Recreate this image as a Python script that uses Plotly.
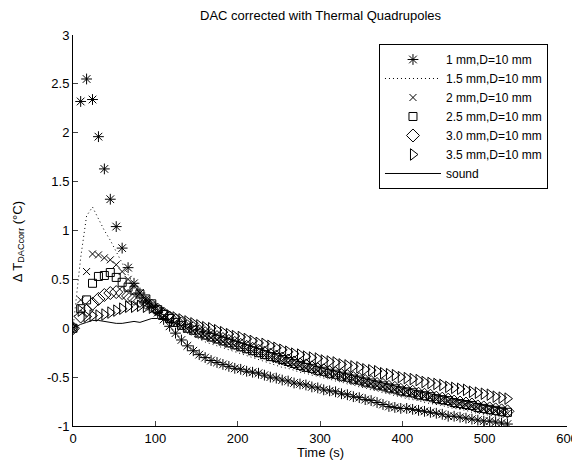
import plotly.graph_objects as go

TIME = [0, 9.3, 16.5, 23.7, 30.9, 38.1, 45.3, 52.5, 59.7, 66.9, 74.1, 81.3, 88.5, 95.7,
        102.9, 110.1, 117.3, 124.5, 131.7, 138.9, 146.1, 153.3, 160.5, 167.7, 174.9,
        182.1, 189.3, 196.5, 203.7, 210.9, 218.1, 225.3, 232.5, 239.7, 246.9, 254.1,
        261.3, 268.5, 275.7, 282.9, 290.1, 297.3, 304.5, 311.7, 318.9, 326.1, 333.3,
        340.5, 347.7, 354.9, 362.1, 369.3, 376.5, 383.7, 390.9, 398.1, 405.3, 412.5,
        419.7, 426.9, 434.1, 441.3, 448.5, 455.7, 462.9, 470.1, 477.3, 484.5, 491.7,
        498.9, 506.1, 513.3, 520.5, 527.7]

S_1MM = [0, 2.32, 2.55, 2.34, 1.96, 1.63, 1.32, 1.04, 0.82, 0.62, 0.46, 0.36, 0.28, 0.22,
         0.16, 0.09, 0.02, -0.05, -0.12, -0.18, -0.23, -0.27, -0.30, -0.33, -0.35,
         -0.37, -0.39, -0.41, -0.42, -0.44, -0.45, -0.46, -0.48, -0.50, -0.51, -0.53,
         -0.54, -0.56, -0.57, -0.58, -0.60, -0.61, -0.63, -0.64, -0.65, -0.67, -0.68,
         -0.70, -0.71, -0.73, -0.74, -0.76, -0.78, -0.80, -0.81, -0.82, -0.82, -0.83,
         -0.84, -0.85, -0.86, -0.87, -0.88, -0.90, -0.90, -0.91, -0.92, -0.93, -0.94,
         -0.95, -0.95, -0.96, -0.97, -0.98]

S_15MM = [0, 0.72, 1.15, 1.24, 1.12, 1.00, 0.90, 0.78, 0.66, 0.55, 0.45, 0.37, 0.30, 0.24,
          0.18, 0.12, 0.07, 0.03, -0.01, -0.05, -0.08, -0.11, -0.14, -0.16, -0.18,
          -0.20, -0.22, -0.24, -0.26, -0.28, -0.30, -0.32, -0.34, -0.36, -0.38, -0.40,
          -0.41, -0.43, -0.45, -0.46, -0.48, -0.49, -0.51, -0.52, -0.54, -0.55, -0.57,
          -0.58, -0.60, -0.61, -0.63, -0.64, -0.66, -0.67, -0.69, -0.70, -0.72, -0.73,
          -0.74, -0.76, -0.77, -0.78, -0.79, -0.81, -0.82, -0.83, -0.84, -0.86, -0.87,
          -0.88, -0.89, -0.90, -0.91, -0.92]

S_2MM = [0, 0.29, 0.58, 0.76, 0.75, 0.72, 0.70, 0.65, 0.58, 0.50, 0.43, 0.36, 0.30, 0.24,
         0.18, 0.13, 0.09, 0.05, 0.02, -0.01, -0.03, -0.06, -0.08, -0.10, -0.12,
         -0.14, -0.16, -0.18, -0.20, -0.22, -0.24, -0.26, -0.28, -0.30, -0.32, -0.34,
         -0.35, -0.37, -0.39, -0.41, -0.42, -0.44, -0.45, -0.47, -0.48, -0.50, -0.51,
         -0.53, -0.54, -0.56, -0.57, -0.59, -0.60, -0.62, -0.63, -0.65, -0.66, -0.67,
         -0.69, -0.70, -0.71, -0.73, -0.74, -0.75, -0.77, -0.78, -0.79, -0.80, -0.82,
         -0.83, -0.84, -0.85, -0.86, -0.87]

S_25MM = [0, 0.20, 0.29, 0.46, 0.53, 0.54, 0.57, 0.52, 0.47, 0.42, 0.39, 0.35, 0.30, 0.25,
          0.19, 0.14, 0.10, 0.06, 0.03, 0.00, -0.02, -0.05, -0.07, -0.09, -0.11,
          -0.13, -0.15, -0.17, -0.19, -0.21, -0.23, -0.25, -0.27, -0.29, -0.30, -0.32,
          -0.34, -0.36, -0.38, -0.40, -0.41, -0.43, -0.44, -0.46, -0.47, -0.49, -0.50,
          -0.52, -0.53, -0.55, -0.56, -0.58, -0.59, -0.61, -0.62, -0.64, -0.65, -0.66,
          -0.68, -0.69, -0.70, -0.72, -0.73, -0.74, -0.76, -0.77, -0.78, -0.79, -0.81,
          -0.82, -0.83, -0.84, -0.85, -0.86]

S_30MM = [0, 0.12, 0.18, 0.25, 0.30, 0.34, 0.36, 0.37, 0.36, 0.33, 0.30, 0.28, 0.26, 0.23,
          0.19, 0.15, 0.11, 0.08, 0.05, 0.02, 0.00, -0.03, -0.05, -0.07, -0.09,
          -0.11, -0.13, -0.15, -0.17, -0.19, -0.21, -0.23, -0.25, -0.27, -0.29, -0.31,
          -0.33, -0.35, -0.37, -0.38, -0.40, -0.42, -0.43, -0.45, -0.46, -0.48, -0.49,
          -0.51, -0.52, -0.54, -0.55, -0.57, -0.58, -0.60, -0.61, -0.63, -0.64, -0.65,
          -0.67, -0.68, -0.69, -0.71, -0.72, -0.73, -0.75, -0.76, -0.77, -0.78, -0.80,
          -0.81, -0.82, -0.83, -0.84, -0.85]

S_35MM = [0, 0.18, 0.12, 0.13, 0.13, 0.14, 0.16, 0.18, 0.20, 0.22, 0.22, 0.23, 0.22, 0.21,
          0.19, 0.16, 0.13, 0.11, 0.09, 0.07, 0.05, 0.03, 0.01, 0.00, -0.02,
          -0.04, -0.06, -0.08, -0.09, -0.11, -0.13, -0.15, -0.16, -0.18, -0.20, -0.22,
          -0.24, -0.26, -0.27, -0.29, -0.30, -0.31, -0.33, -0.34, -0.35, -0.37, -0.38,
          -0.39, -0.40, -0.42, -0.43, -0.44, -0.46, -0.47, -0.48, -0.50, -0.51, -0.52,
          -0.53, -0.55, -0.56, -0.57, -0.58, -0.60, -0.61, -0.62, -0.63, -0.65, -0.66,
          -0.67, -0.68, -0.70, -0.71, -0.72]

SOUND = [0, 0.04, 0.06, 0.08, 0.08, 0.07, 0.06, 0.05, 0.05, 0.06, 0.07, 0.06, 0.08, 0.10,
         0.10, 0.09, 0.07, 0.05, 0.03, 0.01, -0.01, -0.03, -0.05, -0.05, -0.07,
         -0.09, -0.11, -0.13, -0.15, -0.17, -0.19, -0.21, -0.23, -0.25, -0.27, -0.29,
         -0.31, -0.33, -0.35, -0.36, -0.38, -0.40, -0.41, -0.43, -0.44, -0.46, -0.47,
         -0.49, -0.50, -0.52, -0.53, -0.55, -0.56, -0.58, -0.59, -0.61, -0.62, -0.63,
         -0.65, -0.66, -0.67, -0.69, -0.70, -0.71, -0.73, -0.74, -0.75, -0.76, -0.78,
         -0.79, -0.80, -0.81, -0.82, -0.83]

NAMES = ["1 mm,D=10 mm", "1.5 mm,D=10 mm", "2 mm,D=10 mm", "2.5 mm,D=10 mm",
         "3.0 mm,D=10 mm", "3.5 mm,D=10 mm", "sound"]

X_TICKS = [0, 100, 200, 300, 400, 500, 600]
Y_TICKS = [-1, -0.5, 0, 0.5, 1, 1.5, 2, 2.5, 3]
Y_TICKTEXT = ["-1", "-0.5", "0", "0.5", "1", "1.5", "2", "2.5", "3"]

TITLE = "DAC corrected with Thermal Quadrupoles"
X_TITLE = "Time (s)"
Y_TITLE = "Δ T<sub>DACcorr</sub> (°C)"

FONT = "Liberation Sans, Arial, sans-serif"

fig = go.Figure()


def mk(y, name, symbol, size):
    return go.Scatter(x=TIME, y=y, name=name, mode="markers",
                      marker=dict(symbol=symbol, size=size, color="black",
                                  line=dict(color="black", width=1)))


fig.add_trace(mk(S_1MM, NAMES[0], "asterisk-open", 9))
fig.add_trace(go.Scatter(x=TIME, y=S_15MM, name=NAMES[1], mode="lines",
                         line=dict(color="black", width=1, dash="1px,3px")))
fig.add_trace(mk(S_2MM, NAMES[2], "x-thin-open", 7))
fig.add_trace(mk(S_25MM, NAMES[3], "square-open", 8))
fig.add_trace(mk(S_30MM, NAMES[4], "diamond-open", 10))
fig.add_trace(mk(S_35MM, NAMES[5], "triangle-right-open", 10))
fig.add_trace(go.Scatter(x=TIME, y=SOUND, name=NAMES[6], mode="lines",
                         line=dict(color="black", width=1)))

fig.update_layout(
    width=572, height=458,
    margin=dict(l=65, r=13, t=27, b=40, autoexpand=False),
    paper_bgcolor="white", plot_bgcolor="white",
    font=dict(family=FONT, size=13, color="black"),
    showlegend=True,
    legend=dict(x=0.9615, xanchor="right", y=0.977, yanchor="top",
                bordercolor="black", borderwidth=1, bgcolor="white",
                font=dict(size=12), tracegroupgap=0, itemwidth=56),
    xaxis=dict(range=[0, 600], tickvals=X_TICKS, ticks="inside", ticklen=5,
               showline=True, linecolor="black", linewidth=1, mirror=False,
               showgrid=False, zeroline=False, automargin=False),
    yaxis=dict(range=[-1, 3], tickvals=Y_TICKS, ticktext=Y_TICKTEXT, ticks="inside",
               ticklen=5, showline=True, linecolor="black", linewidth=1, mirror=False,
               showgrid=False, zeroline=False, automargin=False),
    annotations=[
        dict(text=TITLE, xref="paper", yref="paper", x=0.502, y=1.0, yshift=20,
             xanchor="center", yanchor="middle", showarrow=False, font=dict(size=13)),
        dict(text=X_TITLE, xref="paper", yref="paper", x=0.502, y=0, yshift=-26,
             xanchor="center", yanchor="middle", showarrow=False, font=dict(size=13)),
        dict(text=Y_TITLE, xref="paper", yref="paper", x=0, xshift=-55, y=0.47,
             xanchor="center", yanchor="middle", textangle=-90, showarrow=False,
             font=dict(size=13)),
    ],
)

fig.write_html("out.html")
